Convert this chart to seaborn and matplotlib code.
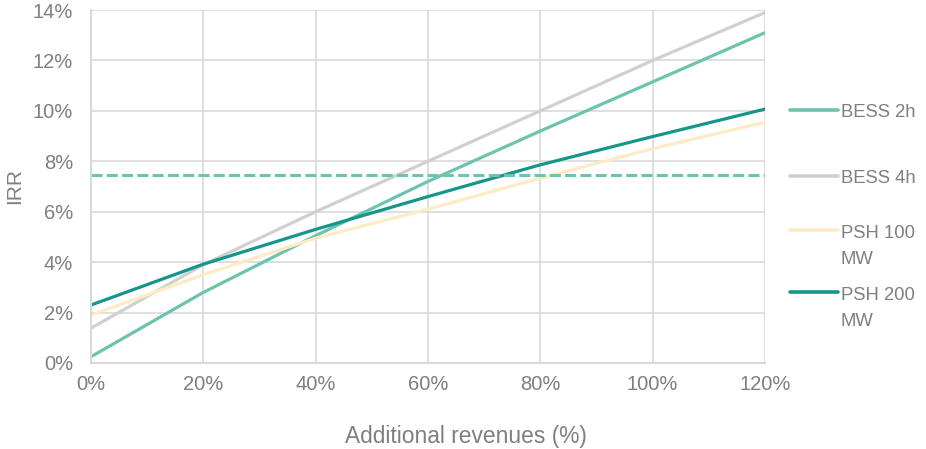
import pandas as pd
import matplotlib.pyplot as plt
import seaborn as sns
from matplotlib.lines import Line2D
from matplotlib.ticker import PercentFormatter

# 数据 (从图中读取，单位 %)
additional_revenues = [0, 20, 40, 60, 80, 100, 120]
bess_2h = [0.25, 2.8, 5.05, 7.2, 9.2, 11.15, 13.1]
bess_4h = [1.38, 3.9, 6.0, 8.0, 10.0, 12.0, 13.9]
psh_100 = [1.9, 3.5, 4.95, 6.1, 7.33, 8.5, 9.55]
psh_200 = [2.3, 3.92, 5.3, 6.6, 7.86, 8.98, 10.07]
hurdle_rate = [7.45] * len(additional_revenues)

series_names = ['BESS 2h', 'BESS 4h', 'PSH 100\nMW', 'PSH 200\nMW']
colors = ['#6CC3AE', '#D0D0D0', '#FCEBC4', '#15968A']

df = pd.DataFrame({
    'x': additional_revenues * 4,
    'IRR': bess_2h + bess_4h + psh_100 + psh_200,
    'series': sum([[n] * len(additional_revenues) for n in series_names], []),
})

sns.set_style('white')
plt.rcParams['font.family'] = ['Liberation Sans', 'DejaVu Sans']
text_color = '#7F7F7F'
grid_color = '#D9D9D9'

W, H = 926, 449
fig = plt.figure(figsize=(W / 100, H / 100), dpi=100)
ax = fig.add_axes([91 / W, 1 - 363 / H, (765 - 91) / W, (363 - 10) / H])

sns.lineplot(data=df, x='x', y='IRR', hue='series', palette=colors,
             linewidth=2.3, ax=ax, legend=False)
# 虚线 (门槛收益率)
sns.lineplot(x=additional_revenues, y=hurdle_rate, color=colors[0],
             linestyle=(0, (3.6, 1.4)), linewidth=2.2, ax=ax, legend=False)

ax.set_xlim(0, 120)
ax.set_ylim(0, 14)
ax.set_xticks(range(0, 121, 20))
ax.set_yticks(range(0, 15, 2))
ax.xaxis.set_major_formatter(PercentFormatter(decimals=0))
ax.yaxis.set_major_formatter(PercentFormatter(decimals=0))
ax.grid(True, color=grid_color, linewidth=1.2)
ax.set_axisbelow(True)
for side in ['top', 'right']:
    ax.spines[side].set_visible(False)
for side in ['left', 'bottom']:
    ax.spines[side].set_color(grid_color)
    ax.spines[side].set_linewidth(1.5)
ax.tick_params(axis='both', labelsize=14.5, colors=text_color, length=0)
ax.tick_params(axis='x', pad=9)
ax.tick_params(axis='y', pad=13)

ax.set_xlabel('Additional revenues (%)', fontsize=16.4, color=text_color, labelpad=21)
ax.xaxis.set_label_coords(0.557, -0.175)
ax.set_ylabel('IRR', fontsize=15, color=text_color, labelpad=6)

# 图例 (手动绘制, 线段与首行文字对齐)
legend_y = [110, 176, 230, 292]
line_px = 27
for name, c, yp in zip(series_names, colors, legend_y):
    yf = 1 - yp / H
    n_lines = name.count('\n') + 1
    fig.add_artist(Line2D([790 / W, 838 / W], [yf, yf], color=c, linewidth=2.6,
                          transform=fig.transFigure))
    fig.text(841 / W, yf - (6.6 + line_px * (n_lines - 1)) / H, name,
             fontsize=13.3, color=text_color, ha='left', va='baseline',
             linespacing=1.7)

plt.savefig('out.png', dpi=100)
